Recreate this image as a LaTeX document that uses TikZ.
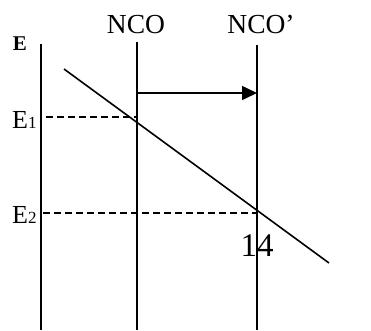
\documentclass[tikz,border=0pt]{standalone}
\usepackage{fontspec}
\setmainfont{Liberation Serif}
\usetikzlibrary{arrows.meta}
\begin{document}
\begin{tikzpicture}[x=1pt,y=-1pt,
  axisline/.style={line width=2pt},
  guideline/.style={line width=1.6pt, dash pattern=on 7pt off 4pt},
  slopeline/.style={line width=1.6pt},
  movearrow/.style={line width=1.6pt, -{Triangle[length=15pt,width=14pt]}},
  lab/.style={inner sep=0pt, anchor=base},
  bigtext/.style={font=\fontsize{27.5}{27.5}\selectfont}]
\useasboundingbox (0,0) rectangle (371,330);
% vertical lines
\coordinate (Etop) at (41,44);
\coordinate (Ebot) at (41,330);
\coordinate (Ntop) at (137,42);
\coordinate (Nbot) at (137,330);
\coordinate (Ptop) at (257,45);
\coordinate (Pbot) at (257,330);
\draw[axisline] (Etop) -- (Ebot);
\draw[axisline] (Ntop) -- (Nbot);
\draw[axisline] (Ptop) -- (Pbot);
% arrow
\coordinate (A1) at (137,93);
\coordinate (A2) at (257,93);
\draw[movearrow] (A1) -- (A2);
% diagonal
\coordinate (D1) at (64,69);
\coordinate (D2) at (329,263);
\draw[slopeline] (D1) -- (D2);
% dashed levels
\coordinate (L1a) at (46,117);
\coordinate (L1b) at (137,117);
\coordinate (L2a) at (43,213);
\coordinate (L2b) at (257,213);
\draw[guideline] (L1a) -- (L1b);
\draw[guideline] (L2a) -- (L2b);
% labels
\node[lab,bigtext] (nco) at (136,33) {NCO};
\node[lab,bigtext] (ncop) at (261,33) {NCO’};
\node[lab,font=\fontsize{21}{21}\selectfont\bfseries] (E) at (20,50) {E};
\node[lab,font=\fontsize{26}{26}\selectfont,anchor=base west] (E1) at (12,128) {E{\fontsize{17}{17}\selectfont 1}};
\node[lab,font=\fontsize{26}{26}\selectfont,anchor=base west] (E2) at (12,223) {E{\fontsize{17}{17}\selectfont 2}};
\node[lab,font=\fontsize{33}{33}\selectfont] (n14) at (257,256) {14};
\end{tikzpicture}
\end{document}
